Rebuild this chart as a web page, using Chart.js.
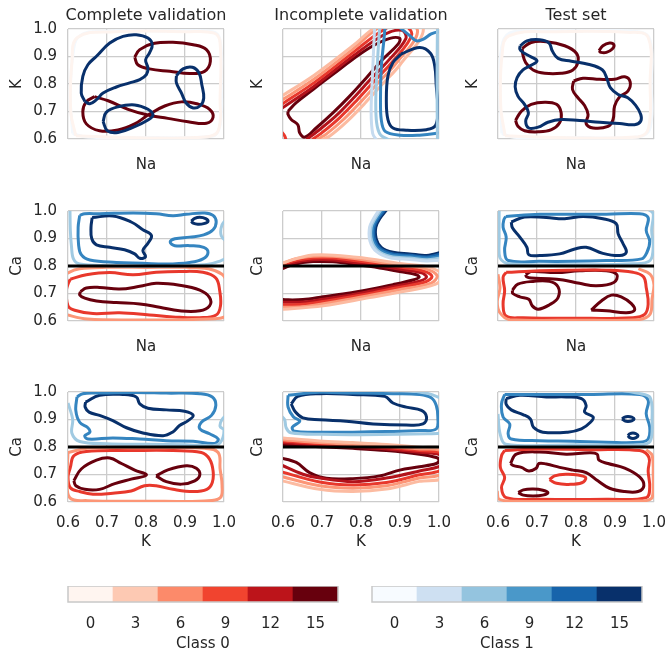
<!DOCTYPE html>
<html lang="en">
<head>
<meta charset="UTF-8">
<title>Contornos por clase</title>
<style>
  body { margin: 0; background: #fff; overflow: hidden; }
  #fig { position: relative; width: 668px; height: 652px; overflow: hidden; }
  #fig canvas { position: absolute; }
</style>
<script src="https://cdn.jsdelivr.net/npm/chart.js"></script>
</head>
<body>
<div id="fig"></div>
<script>
// ---- texts and ticks
const panelTitles = ['Complete validation', 'Incomplete validation', 'Test set'];
const xTitles = ['Na', 'Na', 'K'];
const yTitles = ['K', 'Ca', 'Ca'];
const axisTicks = ['0.6', '0.7', '0.8', '0.9', '1.0'];
const cbTicks = ['0', '3', '6', '9', '12', '15'];
const cbBands = [1, 1, 1, 1, 1, 1];
const cbNames = ['Class 0', 'Class 1'];
const splitLine = [[0.6, 0.8], [1.0, 0.8]];

// ---- contour lines, [x, y] in data units
// row 1: Na / K
const p1_blue1 = [[0.612,0.62],[0.606,0.75],[0.612,0.90],[0.630,0.975],[0.700,0.992],[0.850,0.993],[0.970,0.990],[0.990,0.960],[0.993,0.800],[0.990,0.650],[0.970,0.610],[0.800,0.605],[0.650,0.607]];
const p1_red1 = [[0.620,0.612],[0.607,0.70],[0.610,0.88],[0.625,0.970],[0.720,0.990],[0.900,0.990],[0.975,0.985],[0.990,0.950],[0.990,0.750],[0.985,0.630],[0.950,0.607],[0.800,0.604]];
const p1_blue15_a = [[0.643,0.737],[0.634,0.767],[0.638,0.828],[0.651,0.870],[0.673,0.901],[0.707,0.949],[0.741,0.973],[0.775,0.979],[0.805,0.967],[0.816,0.943],[0.809,0.913],[0.799,0.888],[0.805,0.858],[0.801,0.834],[0.784,0.816],[0.758,0.804],[0.724,0.789],[0.690,0.767],[0.673,0.743],[0.656,0.728]];
const p1_blue15_b = [[0.690,0.663],[0.698,0.697],[0.728,0.717],[0.771,0.724],[0.805,0.708],[0.818,0.687],[0.805,0.669],[0.771,0.645],[0.728,0.624],[0.701,0.630]];
const p1_blue15_c = [[0.878,0.830],[0.895,0.855],[0.919,0.861],[0.936,0.840],[0.943,0.798],[0.948,0.749],[0.939,0.721],[0.921,0.713],[0.903,0.731],[0.891,0.767],[0.878,0.804]];
const p1_red15_a = [[0.771,0.898],[0.784,0.925],[0.818,0.947],[0.869,0.952],[0.921,0.943],[0.955,0.925],[0.965,0.882],[0.950,0.846],[0.912,0.838],[0.861,0.846],[0.809,0.855],[0.779,0.870]];
const p1_red15_b = [[0.668,0.754],[0.703,0.739],[0.754,0.708],[0.805,0.687],[0.856,0.675],[0.908,0.663],[0.955,0.657],[0.972,0.679],[0.963,0.708],[0.933,0.727],[0.891,0.735],[0.848,0.720],[0.805,0.687],[0.771,0.655],[0.728,0.633],[0.681,0.630],[0.647,0.655],[0.638,0.699],[0.647,0.736]];

const p2_red15 = [[0.613,0.701],[0.634,0.732],[0.677,0.780],[0.728,0.835],[0.779,0.890],[0.831,0.939],[0.874,0.966],[0.899,0.966],[0.895,0.945],[0.856,0.890],[0.814,0.823],[0.771,0.756],[0.728,0.695],[0.685,0.640],[0.656,0.607],[0.643,0.622],[0.638,0.652],[0.621,0.671],[0.613,0.689]];
const p2_red12 = [[0.59,0.705],[0.68,0.792],[0.78,0.902],[0.86,0.980],[0.905,0.995],[0.915,0.965],[0.87,0.885],[0.825,0.818],[0.78,0.748],[0.735,0.683],[0.69,0.630],[0.66,0.598]];
const p2_red9 = [[0.59,0.72],[0.68,0.805],[0.78,0.915],[0.85,0.99],[0.90,1.02],[0.93,0.98],[0.88,0.88],[0.835,0.812],[0.79,0.742],[0.745,0.677],[0.70,0.623],[0.675,0.598]];
const p2_red6 = [[0.59,0.735],[0.68,0.818],[0.78,0.928],[0.84,1.0],[0.90,1.04],[0.945,0.99],[0.89,0.875],[0.845,0.806],[0.80,0.736],[0.755,0.671],[0.71,0.617],[0.688,0.598]];
const p2_red3 = [[0.59,0.75],[0.68,0.832],[0.78,0.94],[0.83,1.0],[0.90,1.06],[0.96,1.0],[0.90,0.870],[0.855,0.800],[0.81,0.730],[0.765,0.665],[0.72,0.611],[0.70,0.598]];
const p2_red9_corner = [[0.595,0.628],[0.604,0.612],[0.608,0.596]];
const p2_blue15 = [[0.903,0.909],[0.950,0.933],[0.978,0.912],[0.989,0.866],[0.993,0.793],[0.997,0.707],[0.991,0.649],[0.968,0.634],[0.916,0.632],[0.882,0.640],[0.869,0.671],[0.865,0.744],[0.869,0.829],[0.882,0.878]];
const p2_blue9 = [[0.862,1.01],[0.858,0.95],[0.852,0.86],[0.850,0.75],[0.852,0.67],[0.862,0.628],[0.90,0.614],[0.95,0.614],[0.99,0.62],[1.02,0.63]];
const p2_blue9_top = [[0.895,1.01],[0.925,0.976],[0.942,0.957],[0.96,0.963],[0.98,0.982],[1.0,0.99],[1.02,0.99]];
const p2_blue6 = [[0.848,1.01],[0.843,0.9],[0.838,0.75],[0.840,0.66],[0.850,0.615],[0.875,0.596]];
const p2_blue6_edge = [[0.996,1.01],[0.995,0.8],[0.996,0.596]];
const p2_blue3 = [[0.835,1.01],[0.830,0.85],[0.826,0.7],[0.830,0.62],[0.84,0.596]];

const p3_blue1 = [[0.610,0.62],[0.605,0.80],[0.612,0.95],[0.640,0.990],[0.800,0.993],[0.960,0.990],[0.990,0.960],[0.993,0.800],[0.990,0.640],[0.960,0.607],[0.800,0.605],[0.640,0.606]];
const p3_red1 = [[0.618,0.612],[0.607,0.72],[0.610,0.90],[0.628,0.975],[0.750,0.990],[0.930,0.988],[0.985,0.970],[0.990,0.800],[0.986,0.640],[0.960,0.608],[0.800,0.604]];
const p3_red15_a = [[0.662,0.929],[0.685,0.951],[0.724,0.954],[0.771,0.939],[0.801,0.912],[0.805,0.880],[0.792,0.851],[0.762,0.839],[0.720,0.839],[0.690,0.851],[0.671,0.878],[0.664,0.905]];
const p3_red15_b = [[0.859,0.921],[0.869,0.939],[0.886,0.949],[0.897,0.943],[0.893,0.927],[0.878,0.915],[0.864,0.915]];
const p3_red15_c = [[0.794,0.811],[0.818,0.821],[0.861,0.817],[0.899,0.817],[0.925,0.826],[0.939,0.807],[0.933,0.774],[0.912,0.754],[0.899,0.720],[0.895,0.671],[0.882,0.646],[0.844,0.640],[0.826,0.656],[0.831,0.689],[0.822,0.722],[0.805,0.750],[0.791,0.780]];
const p3_red15_d = [[0.645,0.668],[0.660,0.701],[0.685,0.726],[0.720,0.734],[0.750,0.726],[0.762,0.695],[0.758,0.659],[0.737,0.634],[0.703,0.626],[0.668,0.630],[0.651,0.646]];
const p3_blue15 = [[0.657,0.939],[0.674,0.957],[0.707,0.961],[0.731,0.949],[0.739,0.921],[0.754,0.893],[0.788,0.883],[0.831,0.872],[0.868,0.851],[0.880,0.817],[0.888,0.787],[0.908,0.762],[0.933,0.750],[0.953,0.722],[0.966,0.689],[0.966,0.665],[0.950,0.652],[0.912,0.656],[0.861,0.661],[0.809,0.667],[0.762,0.671],[0.728,0.661],[0.703,0.643],[0.679,0.640],[0.671,0.665],[0.678,0.695],[0.668,0.726],[0.651,0.756],[0.644,0.790],[0.649,0.823],[0.664,0.851],[0.685,0.868],[0.700,0.884],[0.683,0.900],[0.664,0.915],[0.656,0.927]];

// row 2: Na / Ca
const p4_blue15_a = [[0.662,0.976],[0.715,0.982],[0.762,0.960],[0.792,0.932],[0.814,0.911],[0.805,0.883],[0.792,0.856],[0.799,0.834],[0.784,0.828],[0.771,0.844],[0.745,0.859],[0.707,0.868],[0.673,0.877],[0.661,0.899],[0.659,0.941]];
const p4_blue15_b = [[0.916,0.963],[0.925,0.973],[0.938,0.977],[0.953,0.972],[0.959,0.962],[0.948,0.954],[0.933,0.952],[0.921,0.956]];
const p4_blue9 = [[0.630,0.984],[0.626,0.941],[0.627,0.880],[0.634,0.841],[0.656,0.822],[0.724,0.813],[0.792,0.810],[0.852,0.807],[0.912,0.813],[0.946,0.826],[0.959,0.849],[0.948,0.868],[0.912,0.874],[0.874,0.874],[0.862,0.887],[0.874,0.899],[0.912,0.905],[0.948,0.913],[0.972,0.932],[0.980,0.960],[0.972,0.984],[0.950,0.993],[0.903,0.988],[0.869,0.983],[0.826,0.990],[0.767,0.993],[0.681,0.990],[0.643,0.990]];
const p4_blue6_a = [[0.605,1.01],[0.606,0.93],[0.609,0.87],[0.614,0.826],[0.630,0.807],[0.700,0.801],[0.800,0.799],[0.900,0.801],[0.960,0.806],[0.990,0.818],[1.01,0.830]];
const p4_blue6_b = [[1.01,0.885],[0.993,0.91],[0.995,0.95],[1.01,0.975]];
const p4_red15 = [[0.632,0.707],[0.647,0.720],[0.681,0.722],[0.732,0.716],[0.784,0.726],[0.826,0.737],[0.886,0.730],[0.938,0.712],[0.963,0.685],[0.963,0.655],[0.938,0.637],[0.886,0.637],[0.835,0.650],[0.784,0.662],[0.724,0.667],[0.673,0.673],[0.643,0.683],[0.630,0.695]];
const p4_red9 = [[0.606,0.752],[0.647,0.768],[0.707,0.776],[0.767,0.768],[0.826,0.777],[0.886,0.780],[0.946,0.777],[0.979,0.756],[0.989,0.710],[0.991,0.655],[0.980,0.622],[0.938,0.612],[0.869,0.615],[0.809,0.622],[0.732,0.630],[0.664,0.627],[0.617,0.639],[0.600,0.655],[0.596,0.710],[0.600,0.734]];
const p4_red6_a = [[0.59,0.76],[0.600,0.775],[0.630,0.790],[0.700,0.795],[0.800,0.795],[0.900,0.795],[0.960,0.790],[0.995,0.770],[1.01,0.74]];
const p4_red6_b = [[0.59,0.625],[0.650,0.607],[0.800,0.604],[0.900,0.605],[0.990,0.610],[1.01,0.62]];

const p5_blue15 = [[0.869,1.01],[0.848,0.972],[0.838,0.941],[0.839,0.899],[0.852,0.868],[0.882,0.850],[0.925,0.844],[0.968,0.838],[0.989,0.844],[1.01,0.852]];
const p5_blue12 = [[0.864,1.01],[0.844,0.972],[0.834,0.941],[0.835,0.897],[0.849,0.864],[0.880,0.845],[0.925,0.839],[0.968,0.833],[0.990,0.838],[1.01,0.845]];
const p5_blue9 = [[0.859,1.01],[0.840,0.972],[0.830,0.941],[0.831,0.895],[0.846,0.860],[0.878,0.840],[0.925,0.834],[0.968,0.828],[0.991,0.832],[1.01,0.838]];
const p5_blue6 = [[0.854,1.01],[0.836,0.972],[0.826,0.941],[0.827,0.893],[0.843,0.856],[0.876,0.835],[0.925,0.829],[0.968,0.823],[0.992,0.826],[1.01,0.831]];
const p5_blue3 = [[0.849,1.01],[0.832,0.972],[0.822,0.941],[0.823,0.891],[0.840,0.852],[0.874,0.830],[0.925,0.824],[0.968,0.818],[0.993,0.820],[1.01,0.824]];
const p5_red15 = [[0.59,0.785],[0.626,0.805],[0.677,0.816],[0.728,0.815],[0.788,0.805],[0.848,0.793],[0.903,0.779],[0.942,0.768],[0.949,0.759],[0.933,0.749],[0.882,0.732],[0.822,0.715],[0.762,0.700],[0.703,0.688],[0.651,0.678],[0.609,0.677],[0.59,0.679]];
const p5_red12 = [[0.59,0.792],[0.626,0.812],[0.677,0.823],[0.728,0.822],[0.788,0.812],[0.848,0.800],[0.905,0.787],[0.955,0.775],[0.968,0.760],[0.950,0.745],[0.885,0.726],[0.822,0.708],[0.762,0.692],[0.703,0.679],[0.651,0.669],[0.59,0.668]];
const p5_red9 = [[0.59,0.797],[0.626,0.818],[0.677,0.829],[0.728,0.829],[0.788,0.819],[0.848,0.807],[0.905,0.795],[0.960,0.782],[0.982,0.762],[0.965,0.742],[0.890,0.720],[0.822,0.700],[0.762,0.685],[0.703,0.671],[0.651,0.661],[0.59,0.659]];
const p5_red6 = [[0.59,0.803],[0.626,0.824],[0.677,0.835],[0.728,0.835],[0.788,0.826],[0.848,0.814],[0.905,0.802],[0.965,0.790],[0.995,0.765],[0.980,0.738],[0.895,0.713],[0.822,0.693],[0.762,0.677],[0.703,0.663],[0.651,0.652],[0.59,0.650]];
const p5_red3 = [[0.59,0.808],[0.677,0.840],[0.788,0.832],[0.905,0.808],[0.975,0.795],[1.01,0.765],[0.990,0.733],[0.900,0.705],[0.822,0.685],[0.703,0.655],[0.59,0.642]];

const p6_blue15 = [[0.634,0.960],[0.668,0.978],[0.724,0.976],[0.771,0.972],[0.818,0.980],[0.869,0.972],[0.903,0.954],[0.908,0.917],[0.921,0.880],[0.929,0.850],[0.912,0.838],[0.869,0.846],[0.826,0.868],[0.797,0.862],[0.758,0.844],[0.707,0.838],[0.679,0.841],[0.674,0.868],[0.656,0.905],[0.637,0.939]];
const p6_blue9 = [[0.620,0.980],[0.707,0.988],[0.792,0.988],[0.878,0.988],[0.963,0.990],[0.985,0.976],[0.980,0.929],[0.989,0.890],[0.982,0.850],[0.968,0.826],[0.878,0.820],[0.792,0.817],[0.707,0.817],[0.626,0.820],[0.617,0.856],[0.621,0.905],[0.613,0.941],[0.615,0.968]];
const p6_blue6 = [[0.603,1.01],[0.603,0.90],[0.605,0.83],[0.630,0.808],[0.800,0.805],[0.950,0.808],[0.990,0.820],[0.998,0.870],[0.994,0.930],[0.998,0.990],[0.980,1.01]];
const p6_red15_a = [[0.671,0.768],[0.685,0.780],[0.750,0.776],[0.809,0.783],[0.878,0.783],[0.905,0.768],[0.897,0.740],[0.852,0.728],[0.809,0.737],[0.767,0.749],[0.732,0.754],[0.685,0.756],[0.673,0.761]];
const p6_red15_b = [[0.637,0.712],[0.651,0.734],[0.690,0.744],[0.732,0.744],[0.754,0.724],[0.754,0.685],[0.732,0.659],[0.703,0.643],[0.688,0.655],[0.679,0.679],[0.656,0.688],[0.638,0.700]];
const p6_red15_c = [[0.839,0.640],[0.865,0.673],[0.891,0.694],[0.916,0.688],[0.942,0.663],[0.950,0.639],[0.929,0.630],[0.878,0.637]];
const p6_red9 = [[0.621,0.777],[0.707,0.783],[0.792,0.785],[0.878,0.785],[0.946,0.777],[0.973,0.761],[0.980,0.722],[0.985,0.661],[0.976,0.624],[0.946,0.612],[0.792,0.610],[0.664,0.612],[0.621,0.618],[0.613,0.661],[0.617,0.710],[0.613,0.759]];
const p6_red6 = [[0.960,0.790],[0.990,0.770],[1.0,0.730],[0.995,0.680],[0.990,0.625],[0.960,0.605],[0.800,0.603],[0.630,0.605],[0.605,0.630],[0.598,0.670],[0.605,0.720],[0.600,0.770]];

// row 3: K / Ca
const p7_blue15 = [[0.645,0.963],[0.681,0.988],[0.741,0.991],[0.775,0.982],[0.784,0.957],[0.805,0.941],[0.852,0.935],[0.899,0.930],[0.921,0.915],[0.908,0.896],[0.886,0.878],[0.868,0.854],[0.844,0.841],[0.792,0.851],[0.750,0.870],[0.715,0.896],[0.681,0.915],[0.654,0.927],[0.644,0.945]];
const p7_blue9 = [[0.623,0.982],[0.620,0.933],[0.630,0.890],[0.651,0.870],[0.656,0.854],[0.643,0.841],[0.651,0.829],[0.715,0.833],[0.784,0.829],[0.852,0.823],[0.921,0.821],[0.976,0.813],[0.985,0.829],[0.963,0.848],[0.938,0.866],[0.942,0.890],[0.968,0.915],[0.979,0.951],[0.970,0.982],[0.938,0.994],[0.852,0.996],[0.767,0.998],[0.681,0.996],[0.638,0.994]];
const p7_blue6 = [[0.600,0.960],[0.612,0.900],[0.610,0.850],[0.630,0.820],[0.700,0.812],[0.800,0.810],[0.900,0.808],[0.970,0.805],[0.990,0.815],[1.0,0.860],[0.990,0.875],[0.995,0.900],[1.01,0.920]];
const p7_red15_a = [[0.615,0.677],[0.634,0.720],[0.673,0.752],[0.707,0.760],[0.737,0.740],[0.771,0.716],[0.801,0.698],[0.762,0.683],[0.720,0.667],[0.681,0.646],[0.643,0.646],[0.620,0.659]];
const p7_red15_b = [[0.826,0.695],[0.856,0.717],[0.903,0.732],[0.929,0.723],[0.938,0.699],[0.925,0.677],[0.891,0.665],[0.852,0.674]];
const p7_red9 = [[0.606,0.726],[0.615,0.768],[0.647,0.784],[0.767,0.787],[0.869,0.787],[0.942,0.780],[0.963,0.756],[0.972,0.713],[0.970,0.671],[0.956,0.646],[0.921,0.638],[0.869,0.646],[0.826,0.659],[0.796,0.659],[0.762,0.640],[0.715,0.632],[0.664,0.628],[0.630,0.638],[0.606,0.652],[0.600,0.690]];
const p7_red6 = [[0.600,0.780],[0.650,0.795],[0.800,0.797],[0.950,0.795],[0.985,0.780],[0.990,0.720],[0.995,0.660],[0.990,0.615],[0.950,0.604],[0.800,0.603],[0.650,0.605],[0.605,0.615],[0.598,0.680]];

const p8_blue15 = [[0.621,0.957],[0.638,0.984],[0.694,0.994],[0.779,0.991],[0.861,0.984],[0.882,0.960],[0.916,0.945],[0.955,0.933],[0.968,0.909],[0.959,0.884],[0.916,0.880],[0.831,0.884],[0.762,0.894],[0.694,0.899],[0.651,0.906],[0.632,0.927]];
const p8_blue9 = [[0.613,0.988],[0.613,0.945],[0.627,0.909],[0.643,0.894],[0.624,0.872],[0.630,0.857],[0.694,0.854],[0.779,0.854],[0.865,0.856],[0.950,0.860],[0.993,0.866],[0.997,0.909],[0.993,0.951],[0.980,0.979],[0.950,0.991],[0.882,0.994],[0.779,0.996],[0.694,0.999]];
const p8_blue6_a = [[0.590,0.920],[0.604,0.900],[0.608,0.870],[0.620,0.852],[0.700,0.846],[0.800,0.845],[0.900,0.846],[0.970,0.848],[1.01,0.850]];
const p8_blue6_b = [[0.900,1.01],[0.970,0.995],[1.01,0.975]];
const p8_red15 = [[0.59,0.810],[0.694,0.801],[0.779,0.795],[0.865,0.787],[0.950,0.774],[0.993,0.762],[1.0,0.752],[0.993,0.740],[0.950,0.728],[0.899,0.716],[0.848,0.695],[0.779,0.685],[0.711,0.686],[0.668,0.707],[0.634,0.744],[0.59,0.762]];
const p8_red12 = [[0.59,0.818],[0.694,0.806],[0.779,0.800],[0.865,0.793],[0.950,0.781],[1.01,0.768],[1.01,0.735],[0.950,0.713],[0.865,0.687],[0.779,0.674],[0.694,0.687],[0.651,0.701],[0.59,0.738]];
const p8_red9 = [[0.59,0.823],[0.694,0.811],[0.779,0.805],[0.865,0.798],[0.950,0.787],[1.01,0.775],[1.01,0.720],[0.950,0.699],[0.865,0.671],[0.779,0.662],[0.694,0.673],[0.59,0.712]];
const p8_red6 = [[0.59,0.828],[0.694,0.816],[0.779,0.810],[0.865,0.803],[0.950,0.793],[1.01,0.782],[1.01,0.705],[0.950,0.687],[0.865,0.659],[0.779,0.650],[0.694,0.659],[0.59,0.695]];
const p8_red3 = [[0.59,0.834],[0.694,0.822],[0.779,0.816],[0.865,0.809],[0.950,0.799],[1.01,0.789],[1.01,0.690],[0.950,0.675],[0.865,0.647],[0.779,0.638],[0.694,0.646],[0.59,0.680]];

const p9_blue15 = [[0.621,0.976],[0.656,0.988],[0.724,0.982],[0.775,0.982],[0.814,0.976],[0.826,0.951],[0.822,0.927],[0.844,0.909],[0.837,0.890],[0.814,0.866],[0.779,0.854],[0.715,0.854],[0.691,0.872],[0.683,0.902],[0.664,0.918],[0.634,0.935],[0.621,0.955]];
const p9_blue15_b = [[0.918,0.902],[0.925,0.909],[0.933,0.911],[0.943,0.909],[0.949,0.902],[0.943,0.895],[0.933,0.893],[0.925,0.895]];
const p9_blue15_c = [[0.933,0.841],[0.938,0.848],[0.946,0.851],[0.954,0.848],[0.959,0.841],[0.954,0.834],[0.946,0.831],[0.938,0.834]];
const p9_blue9 = [[0.617,0.991],[0.707,0.991],[0.835,0.991],[0.963,0.991],[0.985,0.970],[0.980,0.921],[0.989,0.872],[0.985,0.829],[0.963,0.817],[0.878,0.817],[0.792,0.821],[0.707,0.823],[0.634,0.829],[0.626,0.848],[0.630,0.884],[0.613,0.909],[0.609,0.957]];
const p9_blue6 = [[0.600,0.920],[0.605,0.850],[0.620,0.810],[0.800,0.808],[0.960,0.808],[0.990,0.820],[0.995,0.900],[0.990,0.980],[0.960,0.995],[0.900,1.01]];
const p9_red15 = [[0.632,0.740],[0.647,0.774],[0.707,0.782],[0.775,0.774],[0.835,0.779],[0.854,0.774],[0.859,0.752],[0.882,0.740],[0.925,0.723],[0.963,0.691],[0.974,0.659],[0.959,0.638],[0.925,0.638],[0.886,0.650],[0.856,0.677],[0.826,0.707],[0.792,0.716],[0.758,0.726],[0.724,0.738],[0.705,0.740],[0.698,0.723],[0.679,0.713],[0.660,0.726],[0.640,0.732]];
const p9_red15_b = [[0.652,0.634],[0.665,0.644],[0.690,0.647],[0.715,0.643],[0.728,0.634],[0.715,0.625],[0.690,0.622],[0.665,0.625]];
const p9_red9_b = [[0.732,0.681],[0.745,0.695],[0.775,0.701],[0.805,0.698],[0.825,0.688],[0.815,0.670],[0.780,0.664],[0.750,0.668]];
const p9_red9 = [[0.617,0.787],[0.707,0.793],[0.835,0.790],[0.963,0.787],[0.987,0.762],[0.985,0.713],[0.989,0.652],[0.980,0.616],[0.878,0.610],[0.707,0.610],[0.621,0.616],[0.609,0.652],[0.617,0.689],[0.606,0.726],[0.609,0.768]];
const p9_red6 = [[0.598,0.640],[0.603,0.610],[0.650,0.603],[0.800,0.602],[0.950,0.603],[0.995,0.615],[0.998,0.700],[0.995,0.770],[0.980,0.790]];

// [points, class, level, closed]
const panels = [
  [
    [[p1_red1,0,1,1],[p1_blue1,1,1,1],[p1_red15_a,0,15,1],[p1_red15_b,0,15,1],[p1_blue15_a,1,15,1],[p1_blue15_b,1,15,1],[p1_blue15_c,1,15,1]],
    [[p2_red3,0,3,0],[p2_red6,0,6,0],[p2_red9,0,9,0],[p2_red9_corner,0,9,0],[p2_red12,0,12,0],[p2_red15,0,15,1],
     [p2_blue3,1,3,0],[p2_blue6,1,6,0],[p2_blue6_edge,1,6,0],[p2_blue9,1,9,0],[p2_blue9_top,1,9,0],[p2_blue15,1,15,1]],
    [[p3_red1,0,1,1],[p3_blue1,1,1,1],[p3_red15_a,0,15,1],[p3_red15_b,0,15,1],[p3_red15_c,0,15,1],[p3_red15_d,0,15,1],[p3_blue15,1,15,1]]
  ],
  [
    [[p4_red6_a,0,6,0],[p4_red6_b,0,6,0],[p4_red9,0,9,1],[p4_red15,0,15,1],
     [p4_blue6_a,1,6,0],[p4_blue6_b,1,6,0],[p4_blue9,1,9,1],[p4_blue15_a,1,15,1],[p4_blue15_b,1,15,1]],
    [[p5_red3,0,3,0],[p5_red6,0,6,0],[p5_red9,0,9,0],[p5_red12,0,12,0],[p5_red15,0,15,0],
     [p5_blue3,1,3,0],[p5_blue6,1,6,0],[p5_blue9,1,9,0],[p5_blue12,1,12,0],[p5_blue15,1,15,0]],
    [[p6_red6,0,6,0],[p6_red9,0,9,1],[p6_red15_a,0,15,1],[p6_red15_b,0,15,1],[p6_red15_c,0,15,1],
     [p6_blue6,1,6,0],[p6_blue9,1,9,1],[p6_blue15,1,15,1]]
  ],
  [
    [[p7_red6,0,6,1],[p7_red9,0,9,1],[p7_red15_a,0,15,1],[p7_red15_b,0,15,1],
     [p7_blue6,1,6,0],[p7_blue9,1,9,1],[p7_blue15,1,15,1]],
    [[p8_red3,0,3,0],[p8_red6,0,6,0],[p8_red9,0,9,0],[p8_red12,0,12,0],[p8_red15,0,15,0],
     [p8_blue6_a,1,6,0],[p8_blue6_b,1,6,0],[p8_blue9,1,9,1],[p8_blue15,1,15,1]],
    [[p9_red6,0,6,0],[p9_red9,0,9,1],[p9_red9_b,0,9,1],[p9_red15,0,15,1],[p9_red15_b,0,15,1],
     [p9_blue6,1,6,0],[p9_blue9,1,9,1],[p9_blue15,1,15,1],[p9_blue15_b,1,15,1],[p9_blue15_c,1,15,1]]
  ]
];

// ---- styling
const FONT = "'DejaVu Sans', sans-serif";
const INK = '#262626';
const GRID = '#cccccc';
const lineCols = [
  {1: '#fef4ef', 3: '#fcbba1', 6: '#fc9677', 9: '#e8382c', 12: '#b3121b', 15: '#67000d'},
  {1: '#f3f8fd', 3: '#c6dbef', 6: '#a0cae2', 9: '#3585c0', 12: '#1764ab', 15: '#08306b'}
];
const cbCols = [
  ['#fff5f0', '#fdc9b3', '#fc8a6a', '#f1442f', '#bc141a', '#67000d'],
  ['#f7fbff', '#cee0f2', '#94c4df', '#4a98c9', '#1764ab', '#08306b']
];
const colLeft = [68, 283, 498];
const rowTop = [29, 211, 392];
const PW = 156, PH = 110, SIDE = 68;
const fig = document.getElementById('fig');

function addCanvas(left, top, w, h) {
  const c = document.createElement('canvas');
  c.width = w; c.height = h;
  c.style.left = left + 'px'; c.style.top = top + 'px';
  fig.appendChild(c);
  return c.getContext('2d');
}

function lineSet(pts, color, closed, order, width) {
  const d = pts.map(p => ({x: p[0], y: p[1]}));
  if (closed) d.push({x: pts[0][0], y: pts[0][1]});
  return {data: d, showLine: true, borderColor: color, borderWidth: width,
          pointRadius: 0, tension: closed ? 0.4 : 0.35, fill: false, clip: 0, order: order};
}

const font = {family: FONT, size: 15};
const titleFont = {family: FONT, size: 16, weight: 'normal'};
const yTitlePad = [8.5, 34.5, 34.5];

for (let r = 0; r < 3; r++) {
  for (let c = 0; c < 3; c++) {
    // canvas symmetric around the panel so the full-width title is centred on it
    const ctx = addCanvas(colLeft[c] - SIDE, rowTop[r] - 29, SIDE + PW + SIDE, 29 + PH + 52);
    const ds = panels[r][c].map(([pts, cls, lev, closed]) =>
      lineSet(pts, lineCols[cls][lev], closed, lev === 1 ? 3 : (cls === 1 ? 1 : 2), 3));
    if (r > 0) ds.push(lineSet(splitLine, '#000000', false, 0, 2.8));
    new Chart(ctx, {
      type: 'scatter',
      data: {datasets: ds},
      options: {
        responsive: false, animation: false, events: [],
        layout: {padding: {left: 0, right: 0, top: r === 0 ? 0 : 29, bottom: 0}},
        plugins: {
          legend: {display: false}, tooltip: {enabled: false},
          title: {display: r === 0, text: panelTitles[c], color: INK, font: titleFont,
                  fullSize: true, padding: {top: 6, bottom: 3.8}}
        },
        scales: {
          x: {
            type: 'linear', min: 0.6, max: 1.0,
            afterFit: s => { s.height = 52; },
            ticks: {display: r === 2, stepSize: 0.1, padding: 12, color: INK, font: font,
                    maxRotation: 0, callback: (v, i) => axisTicks[i]},
            grid: {color: GRID, lineWidth: 1.3, drawTicks: false},
            border: {display: false},
            title: {display: true, text: xTitles[r], color: INK, font: font,
                    padding: {top: 0, bottom: r === 2 ? 3 : 17}}
          },
          y: {
            type: 'linear', min: 0.6, max: 1.0,
            afterFit: s => { s.width = SIDE; },
            ticks: {display: c === 0, stepSize: 0.1, padding: 11, color: INK, font: font,
                    callback: (v, i) => axisTicks[i]},
            grid: {color: GRID, lineWidth: 1.3, drawTicks: false},
            border: {display: false},
            title: {display: true, text: yTitles[r], color: INK, font: font,
                    padding: {top: yTitlePad[c], bottom: 0}}
          },
          yRight: {
            type: 'linear', position: 'right', min: 0, max: 1,
            afterFit: s => { s.width = SIDE; },
            ticks: {display: false}, grid: {display: false, drawTicks: false},
            border: {display: false}
          }
        }
      }
    });
  }
}

// ---- colour bars
const framePlugin = {
  id: 'frame',
  afterDraw(chart) {
    const a = chart.chartArea, g = chart.ctx;
    g.save();
    g.strokeStyle = '#c8c8c8'; g.lineWidth = 1.5;
    g.strokeRect(a.left, a.top, a.right - a.left, a.bottom - a.top);
    g.restore();
  }
};
const cbLeft = [68, 372];
const CBW = 270, CBH = 16;
for (let k = 0; k < 2; k++) {
  const ctx = addCanvas(cbLeft[k] - 20, 586, CBW + 40, CBH + 60);
  new Chart(ctx, {
    type: 'bar',
    data: {labels: cbTicks, datasets: [{data: cbBands, backgroundColor: cbCols[k],
           borderWidth: 0, categoryPercentage: 1, barPercentage: 1}]},
    options: {
      responsive: false, animation: false, events: [],
      layout: {padding: {left: 20, right: 20, top: 0, bottom: 0}},
      plugins: {legend: {display: false}, tooltip: {enabled: false}},
      scales: {
        x: {
          afterFit: s => { s.height = 60; },
          grid: {display: false, drawTicks: false}, border: {display: false},
          ticks: {color: INK, font: font, padding: 13, maxRotation: 0},
          title: {display: true, text: cbNames[k], color: INK, font: font, padding: {top: 0, bottom: 9}}
        },
        y: {display: false, min: 0, max: 1}
      }
    },
    plugins: [framePlugin]
  });
}
</script>
</body>
</html>
